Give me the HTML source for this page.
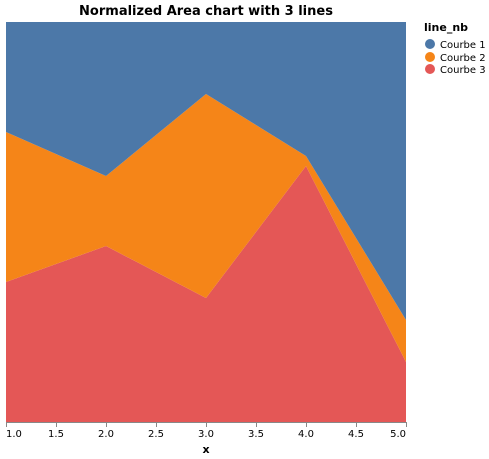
<!DOCTYPE html>
<html><head><meta charset="utf-8"><style>
body{margin:0;background:#fff;}
svg{display:block;font-family:"DejaVu Sans","Liberation Sans",sans-serif;}
</style></head><body>
<svg id="chart" width="489" height="459">
<text x="206" y="15" text-anchor="middle" font-size="13" font-weight="bold" fill="#000">Normalized Area chart with 3 lines</text>
<g id="areas"></g>
<g id="xaxis"></g>
<text x="206" y="453" text-anchor="middle" font-size="11" font-weight="bold">x</text>
<g>
<text x="424" y="31" font-size="11" font-weight="bold">line_nb</text>
<g><circle cx="430" cy="44" r="5" fill="#4c78a8"/><text x="440" y="48" font-size="10">Courbe 1</text></g>
<g><circle cx="430" cy="57" r="5" fill="#f58518"/><text x="440" y="61" font-size="10">Courbe 2</text></g>
<g><circle cx="430" cy="69" r="5" fill="#e45756"/><text x="440" y="73" font-size="10">Courbe 3</text></g>
</g>
</svg>
<script>
const xs = [1, 2, 3, 4, 5];
const courbe3 = [35, 44, 31, 64, 15];
const courbe2 = [37.5, 17.5, 51, 2.5, 10.5];
const courbe1 = [27.5, 38.5, 18, 33.5, 74.5];
const xTicks = ["1.0","1.5","2.0","2.5","3.0","3.5","4.0","4.5","5.0"];
const NS="http://www.w3.org/2000/svg";
const X0=6,X1=406,Y0=422,Y1=22;
function sx(v){return X0+(v-1)/4*(X1-X0);}
function sy(f){return Y0-f*(Y0-Y1);}
const series=[[courbe3,"#e45756","area-courbe-3"],[courbe2,"#f58518","area-courbe-2"],[courbe1,"#4c78a8","area-courbe-1"]];
const totals=xs.map((_,i)=>courbe1[i]+courbe2[i]+courbe3[i]);
let base=xs.map(()=>0);
const g=document.getElementById("areas");
series.forEach(([vals,col,name])=>{
  const top=base.map((b,i)=>b+vals[i]/totals[i]);
  let d="M"+xs.map((x,i)=>sx(x)+","+sy(top[i])).join("L");
  for(let i=xs.length-1;i>=0;i--) d+="L"+sx(xs[i])+","+sy(base[i]);
  d+="Z";
  const p=document.createElementNS(NS,"path");
  p.setAttribute("d",d);p.setAttribute("fill",col);
  
  
  g.appendChild(p);
  base=top;
});
const ax=document.getElementById("xaxis");
const ln=document.createElementNS(NS,"line");
ln.setAttribute("x1",X0);ln.setAttribute("x2",X1);ln.setAttribute("y1",Y0+0.5);ln.setAttribute("y2",Y0+0.5);ln.setAttribute("stroke","#888");


ax.appendChild(ln);
xTicks.forEach((t,i)=>{
  const x=sx(parseFloat(t));
  const tk=document.createElementNS(NS,"line");
  tk.setAttribute("x1",x+0.5);tk.setAttribute("x2",x+0.5);tk.setAttribute("y1",Y0);tk.setAttribute("y2",Y0+5);tk.setAttribute("stroke","#888");
  
  
  ax.appendChild(tk);
  const tx=document.createElementNS(NS,"text");
  tx.setAttribute("x",x);tx.setAttribute("y",Y0+15);tx.setAttribute("font-size","10");
  tx.setAttribute("text-anchor",i==0?"start":(i==xTicks.length-1?"end":"middle"));
  tx.textContent=t;
  
  
  ax.appendChild(tx);
});
</script>
</body></html>
